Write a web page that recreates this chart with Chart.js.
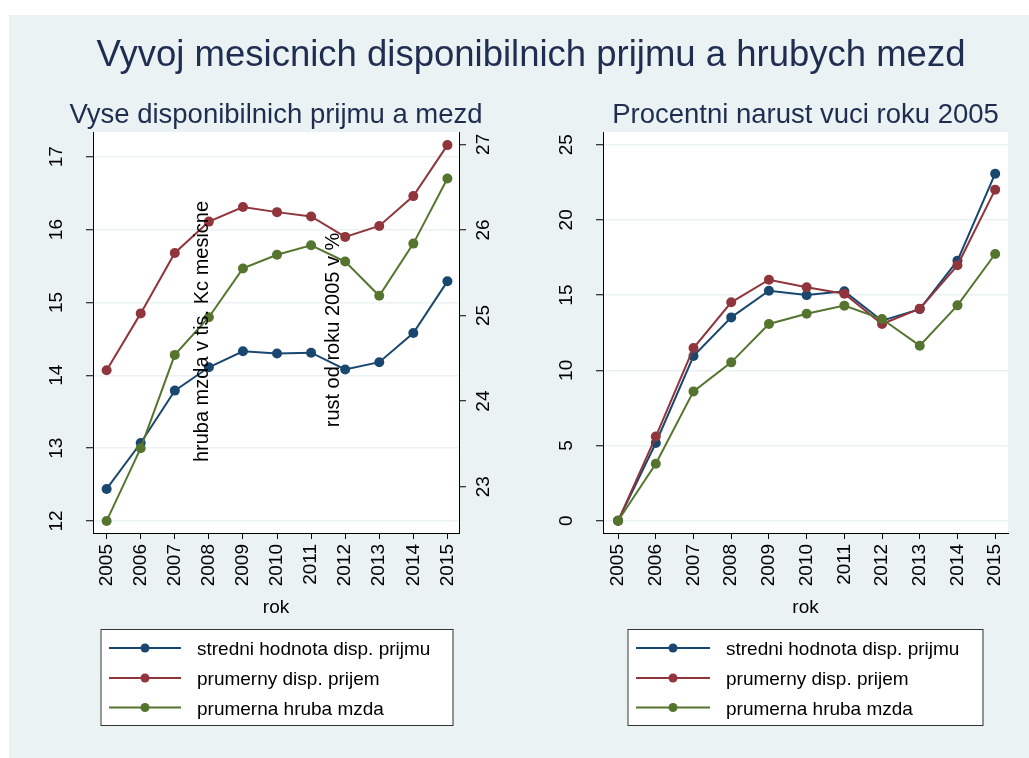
<!DOCTYPE html>
<html>
<head>
<meta charset="utf-8">
<title>Vyvoj mesicnich disponibilnich prijmu a hrubych mezd</title>
<script src="https://cdn.jsdelivr.net/npm/chart.js@4.4.1/dist/chart.umd.min.js"></script>
<style>
    html, body { margin: 0; padding: 0; background: #ffffff; }
    #bg { position: absolute; left: 9px; top: 15px; width: 1020px; height: 743px; background: #eaf2f3; }
    canvas { position: absolute; left: 0; top: 0; }
</style>
</head>
<body>
<div id="bg"></div>
<canvas id="levy" width="1029" height="758"></canvas>
<canvas id="pravy" width="1029" height="758"></canvas>
<script>
// data
const roky = [2005, 2006, 2007, 2008, 2009, 2010, 2011, 2012, 2013, 2014, 2015];

// left panel, tis. Kc mesicne
const stredniPrijem = [12.44, 13.07, 13.79, 14.11, 14.33, 14.30, 14.31, 14.08, 14.18, 14.58, 15.29];
const prumernyPrijem = [14.07, 14.85, 15.68, 16.11, 16.31, 16.24, 16.18, 15.90, 16.05, 16.46, 17.16];
const hrubaMzda = [22.60, 23.45, 24.54, 24.98, 25.55, 25.71, 25.82, 25.63, 25.23, 25.84, 26.60];

// right panel, rust od roku 2005 v %
const rustStredni = [0, 5.17, 10.95, 13.52, 15.29, 15.00, 15.25, 13.30, 14.07, 17.29, 23.07];
const rustPrumerny = [0, 5.60, 11.48, 14.52, 16.02, 15.52, 15.09, 13.08, 14.10, 16.98, 22.01];
const rustMzda = [0, 3.79, 8.60, 10.53, 13.08, 13.76, 14.30, 13.41, 11.64, 14.32, 17.73];

const tickyLevy = [12, 13, 14, 15, 16, 17];
const tickyPravy = [23, 24, 25, 26, 27];
const tickyRust = [0, 5, 10, 15, 20, 25];

const nazvy = ['stredni hodnota disp. prijmu', 'prumerny disp. prijem', 'prumerna hruba mzda'];
const barvy = ['#1a476f', '#90353b', '#55752f'];

const FONT = '"Liberation Sans", Arial, Helvetica, sans-serif';
const TITLE_COLOR = '#1e2d50';

function toPoints(vals) {
    return vals.map((v, i) => ({ x: roky[i], y: v }));
}

function dataset(i, vals, axis) {
    return {
        label: nazvy[i],
        data: toPoints(vals),
        yAxisID: axis,
        borderColor: barvy[i],
        backgroundColor: barvy[i],
        borderWidth: 2,
        pointRadius: 5,
        pointBorderWidth: 0,
        pointHoverRadius: 5,
        tension: 0,
        order: 3 - i
    };
}

function textRot(ctx, text, x, y, size, align) {
    ctx.save();
    ctx.translate(x, y);
    ctx.rotate(-Math.PI / 2);
    ctx.font = size + 'px ' + FONT;
    ctx.textAlign = align || 'center';
    ctx.textBaseline = 'alphabetic';
    ctx.fillText(text, 0, 0);
    ctx.restore();
}

function text(ctx, str, x, y, size, color) {
    ctx.save();
    ctx.font = size + 'px ' + FONT;
    ctx.fillStyle = color || '#000';
    ctx.textAlign = 'center';
    ctx.textBaseline = 'alphabetic';
    ctx.fillText(str, x, y);
    ctx.restore();
}

// y tick labels are rotated like in Stata, chart.js can't do that on vertical axes
function yLabels(chart, id, offset) {
    const s = chart.scales[id];
    const ctx = chart.ctx;
    const axisX = s.position === 'left' ? s.right : s.left;
    ctx.save();
    ctx.fillStyle = '#000';
    s.ticks.forEach(t => {
        textRot(ctx, String(t.value), axisX + offset + 0.358 * 19, s.getPixelForValue(t.value), 19);
    });
    ctx.restore();
}

function legenda(chart, box) {
    const ctx = chart.ctx;
    ctx.save();
    ctx.fillStyle = '#ffffff';
    ctx.fillRect(box.x, box.y, box.w, box.h);
    ctx.strokeStyle = '#333333';
    ctx.lineWidth = 1;
    ctx.strokeRect(box.x + 0.5, box.y + 0.5, box.w, box.h);
    chart.data.datasets.forEach((ds, i) => {
        const cy = box.rows[i];
        ctx.strokeStyle = ds.borderColor;
        ctx.lineWidth = 2;
        ctx.beginPath();
        ctx.moveTo(box.l1, cy);
        ctx.lineTo(box.l2, cy);
        ctx.stroke();
        ctx.fillStyle = ds.borderColor;
        ctx.beginPath();
        ctx.arc((box.l1 + box.l2) / 2, cy, 4.5, 0, Math.PI * 2);
        ctx.fill();
        ctx.fillStyle = '#000';
        ctx.font = '19px ' + FONT;
        ctx.textAlign = 'left';
        ctx.fillText(ds.label, box.tx, cy + 7.3);
    });
    ctx.restore();
}

const bilePozadi = {
    id: 'bilePozadi',
    beforeDraw(chart) {
        const a = chart.chartArea;
        chart.ctx.save();
        chart.ctx.fillStyle = '#ffffff';
        chart.ctx.fillRect(a.left, a.top, a.right - a.left, a.bottom - a.top);
        chart.ctx.restore();
    }
};

function xScale() {
    return {
        type: 'linear',
        min: 2004.6,
        max: 2015.34,
        afterBuildTicks: s => { s.ticks = roky.map(v => ({ value: v })); },
        afterFit: s => { s.height = 60; },
        ticks: {
            autoSkip: false,
            minRotation: 90,
            maxRotation: 90,
            padding: 5,
            color: '#000',
            font: { family: FONT, size: 19 },
            callback: v => String(v)
        },
        grid: { drawOnChartArea: false, tickColor: '#000', tickLength: 6, tickWidth: 1 },
        border: { color: '#000', width: 1 }
    };
}

function yScale(pos, min, max, ticks, grid) {
    return {
        type: 'linear',
        position: pos,
        min: min,
        max: max,
        afterBuildTicks: s => { s.ticks = ticks.map(v => ({ value: v })); },
        afterFit: s => { s.width = 50; },
        ticks: { display: false },
        grid: {
            drawOnChartArea: grid,
            color: '#eaf2f3',
            lineWidth: 1.5,
            tickColor: '#000',
            tickLength: 7,
            tickWidth: 1
        },
        border: { color: '#000', width: 1 }
    };
}

const common = {
    responsive: false,
    animation: false,
    plugins: { legend: { display: false }, tooltip: { enabled: false } }
};

new Chart(document.getElementById('levy'), {
    type: 'line',
    data: {
        datasets: [
            dataset(0, stredniPrijem, 'y'),
            dataset(1, prumernyPrijem, 'y'),
            dataset(2, hrubaMzda, 'y2')
        ]
    },
    options: Object.assign({}, common, {
        layout: { padding: { left: 43, right: 520, top: 132, bottom: 165 } },
        scales: {
            x: xScale(),
            y: yScale('left', 11.835, 17.34, tickyLevy, true),
            y2: yScale('right', 22.459, 27.144, tickyPravy, false)
        }
    }),
    plugins: [bilePozadi, {
        id: 'texty',
        afterDraw(chart) {
            const ctx = chart.ctx;
            const a = chart.chartArea;
            const cx = (a.left + a.right) / 2;
            text(ctx, 'Vyvoj mesicnich disponibilnich prijmu a hrubych mezd', 531, 66, 36.5, TITLE_COLOR);
            text(ctx, 'Vyse disponibilnich prijmu a mezd', cx, 123, 27.5, TITLE_COLOR);
            text(ctx, 'rok', cx, 613, 19);
            yLabels(chart, 'y', -37.5);
            yLabels(chart, 'y2', 23.5);
            ctx.fillStyle = '#000';
            textRot(ctx, 'hruba mzda v tis. Kc mesicne', 207.5, 331.5, 20);
            textRot(ctx, 'rust od roku 2005 v %', 338.5, 330, 20);
            legenda(chart, { x: 100.5, y: 629, w: 352, h: 96, l1: 109, l2: 181, tx: 197, rows: [648, 678, 707.5] });
        }
    }]
});

new Chart(document.getElementById('pravy'), {
    type: 'line',
    data: {
        datasets: [
            dataset(0, rustStredni, 'y'),
            dataset(1, rustPrumerny, 'y'),
            dataset(2, rustMzda, 'y')
        ]
    },
    options: Object.assign({}, common, {
        layout: { padding: { left: 553, right: 21, top: 132, bottom: 165 } },
        scales: {
            x: xScale(),
            y: yScale('left', -0.81, 25.84, tickyRust, true)
        }
    }),
    plugins: [bilePozadi, {
        id: 'texty2',
        afterDraw(chart) {
            const ctx = chart.ctx;
            const a = chart.chartArea;
            const cx = (a.left + a.right) / 2;
            text(ctx, 'Procentni narust vuci roku 2005', cx, 123, 27.5, TITLE_COLOR);
            text(ctx, 'rok', cx, 613, 19);
            yLabels(chart, 'y', -38.3);
            legenda(chart, { x: 627.5, y: 629, w: 355, h: 96, l1: 636, l2: 710, tx: 726, rows: [648, 678, 707.5] });
        }
    }]
});
</script>
</body>
</html>
